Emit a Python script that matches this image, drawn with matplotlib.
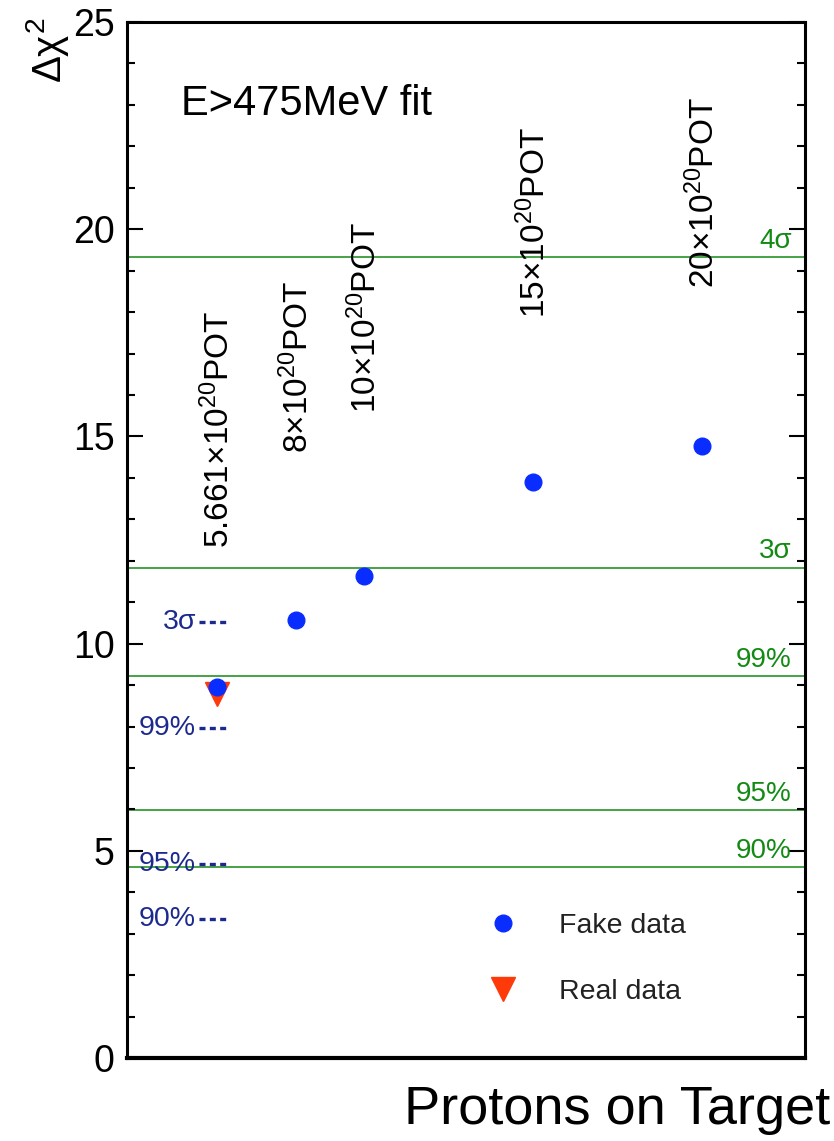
import numpy as np
import matplotlib
matplotlib.use("Agg")
import matplotlib.pyplot as plt
from matplotlib.ticker import MultipleLocator

plt.rcParams['font.family'] = ['Liberation Sans', 'DejaVu Sans']
plt.rcParams['mathtext.fontset'] = 'custom'
plt.rcParams['mathtext.rm'] = 'Liberation Sans'
plt.rcParams['mathtext.it'] = 'Liberation Sans'
plt.rcParams['mathtext.bf'] = 'Liberation Sans:bold'

# exposure (x10^20 POT) and fitted delta chi2
pot = [5.661, 8, 10, 15, 20]
fake_chi2 = [8.95, 10.57, 11.63, 13.9, 14.77]
real_pot = [5.661]
real_chi2 = [8.78]
pot_labels = [r'5.661×10$^{20}$POT', r'8×10$^{20}$POT', r'10×10$^{20}$POT',
              r'15×10$^{20}$POT', r'20×10$^{20}$POT']

# 2-dof confidence levels (green) and the older reference levels (blue)
cl_names = ['90%', '95%', '99%', '3σ', '4σ']
cl_values = [4.61, 5.99, 9.21, 11.83, 19.33]
old_names = ['90%', '95%', '99%', '3σ']
old_values = [3.35, 4.68, 7.96, 10.53]

# how far above each point its exposure label starts
label_gap = [3.36, 4.03, 3.93, 3.96, 3.81]

green = '#138a13'
navy = '#1c2a8e'
blue = '#0a2dff'
red = '#ff3a0a'

fig = plt.figure(figsize=(8.34, 11.41), dpi=100)
ax = fig.add_axes([0.1523, 0.0727, 0.8129, 0.908])

for name, v in zip(cl_names, cl_values):
    ax.axhline(v, color=green, lw=1.1, zorder=1)
    ax.text(22.66, v + 0.08, name, color=green, fontsize=20, ha='right', va='bottom')

for name, v in zip(old_names, old_values):
    ax.plot([5.12, 5.93], [v, v], color=navy, lw=2.4, ls=(0, (1.8, 1.3)),
            solid_capstyle='butt', dash_capstyle='butt', zorder=2)
    ax.text(5.04, v, name, color=navy, fontsize=20.5, ha='right', va='center')

ax.plot(real_pot, real_chi2, ls='none', marker='v', ms=17, color=red, mec=red,
        label='Real data', zorder=3)
ax.plot(pot, fake_chi2, ls='none', marker='o', ms=12, color=blue, mec=blue,
        label='Fake data', zorder=4)

for x, y, lab, g in zip(pot, fake_chi2, pot_labels, label_gap):
    ax.text(x + 0.05, y + g, lab, rotation=90, fontsize=24, ha='center', va='bottom')

ax.text(4.6, 23.02, 'E>475MeV fit', fontsize=30, ha='left', va='center')

ax.set_xlim(3, 23.05)
ax.set_ylim(0, 25)

ax.yaxis.set_major_locator(MultipleLocator(5))
ax.yaxis.set_minor_locator(MultipleLocator(1))
ax.tick_params(axis='y', which='major', direction='in', length=11.5, width=1.5,
               labelsize=27, pad=9, right=True)
ax.tick_params(axis='y', which='minor', direction='in', length=6, width=1.5, right=True)
ax.tick_params(axis='x', which='both', bottom=False, top=False, labelbottom=False)
for side in ['left', 'right', 'top']:
    ax.spines[side].set_linewidth(2.2)
ax.spines['bottom'].set_linewidth(3)

handles, labels = ax.get_legend_handles_labels()
ax.legend(handles[::-1], labels[::-1], loc='upper left', bbox_to_anchor=(0.513, 0.154),
          frameon=False, fontsize=20.5, labelspacing=1.4, handlelength=1.0,
          handletextpad=1.45, borderpad=0, numpoints=1, labelcolor='#222222')

fig.text(0.057, 0.985, r'$\Delta\chi^2$', rotation=90, fontsize=29, ha='center', va='top')
fig.text(0.996, 0.027, 'Protons on Target', fontsize=39, ha='right', va='center')

fig.savefig('out.png', dpi=100)
